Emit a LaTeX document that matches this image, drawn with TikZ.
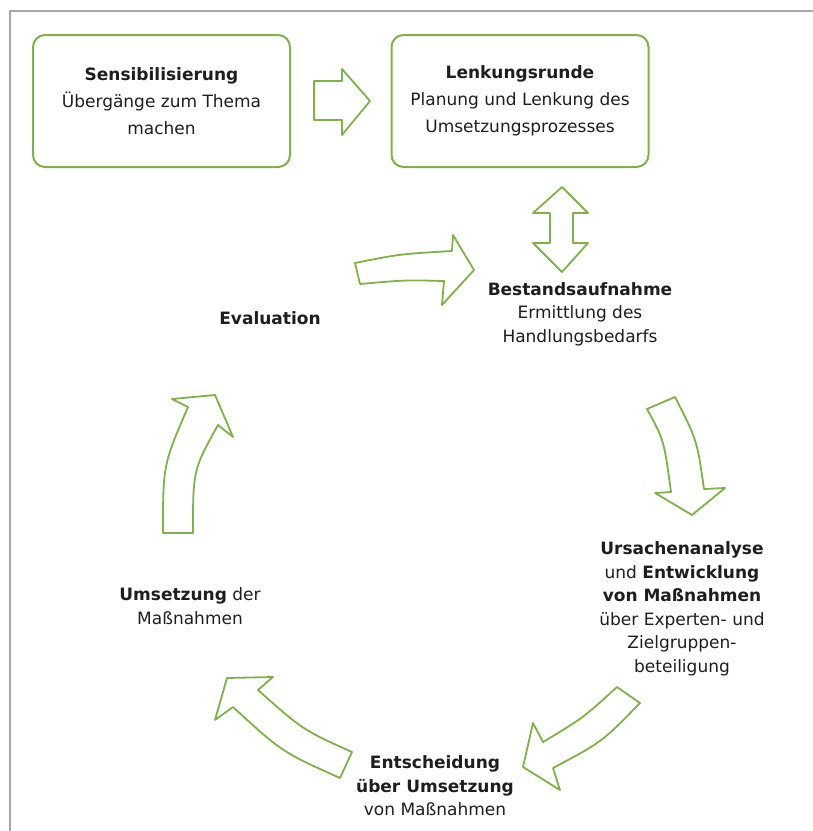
\documentclass[tikz,border=0pt]{standalone}
\usepackage{fontspec}
\setmainfont{DejaVu Sans}
\definecolor{leaf}{RGB}{128,176,78}
\definecolor{ink}{RGB}{30,30,30}
\begin{document}
\begin{tikzpicture}[x=1pt,y=-1pt,line join=round,
  box/.style={draw=leaf,line width=2,rounded corners=12,minimum width=257,minimum height=132,align=center,text=ink,font=\fontsize{17}{27}\selectfont},
  lab/.style={align=center,text=ink,font=\fontsize{17}{23.5}\selectfont},
  blk/.style={draw=leaf,line width=1.8,fill=white}]
\useasboundingbox (0,0) rectangle (813,831);
\draw[gray!70,line width=2](10,831)--(10,11)--(813,11);

\node[box](sens) at (161.5,101){\textbf{Sensibilisierung}\\Übergänge zum Thema\\machen};
\node[box](lenk) at (520,101){\textbf{Lenkungsrunde}\\Planung und Lenkung des\\Umsetzungsprozesses};

\node[lab](best) at (580,314){\textbf{Bestandsaufnahme}\\Ermittlung des\\Handlungsbedarfs};
\node[lab](urs) at (682,609){\textbf{Ursachenanalyse}\\und \textbf{Entwicklung}\\\textbf{von Maßnahmen}\\über Experten- und\\Zielgruppen-\\beteiligung};
\node[lab](ent) at (435,786){\textbf{Entscheidung}\\\textbf{über Umsetzung}\\von Maßnahmen};
\node[lab](ums) at (190,606){\textbf{Umsetzung} der\\Maßnahmen};
\node[lab](eva) at (270,318){\textbf{Evaluation}};

\draw[blk](314,81)--(342,81)--(342,69)--(370,101)--(342,135)--(342,120)--(314,120)--cycle;
\draw[blk](562,187)--(588,213)--(573,213)--(573,243)--(588,243)--(562,272)--(533,243)--(550,243)--(550,213)--(533,213)--cycle;
\draw[blk](355,263) .. controls (400,254) .. (452,251)--(453,235)--(474,270)--(442,305)--(444,281) .. controls (405,280) .. (360,284)--cycle;
\draw[blk](647,409) .. controls (664,440) .. (671,492)--(655,493)--(692,515)--(725,488)--(704,489) .. controls (697,440) .. (675,397)--cycle;
\draw[blk](617,687) .. controls (583,718) .. (543,742)--(533,723)--(523,767)--(560,790)--(553,768) .. controls (602,742) .. (640,703)--cycle;
\draw[blk](352,752) .. controls (303,730) .. (258,690)--(273,677)--(227,678)--(215,720)--(233,707) .. controls (282,752) .. (340,778)--cycle;
\draw[blk](163,533) .. controls (163,465) .. (188,407)--(172,399)--(215,395)--(233,437)--(218,425) .. controls (193,470) .. (193,533)--cycle;

\end{tikzpicture}
\end{document}
